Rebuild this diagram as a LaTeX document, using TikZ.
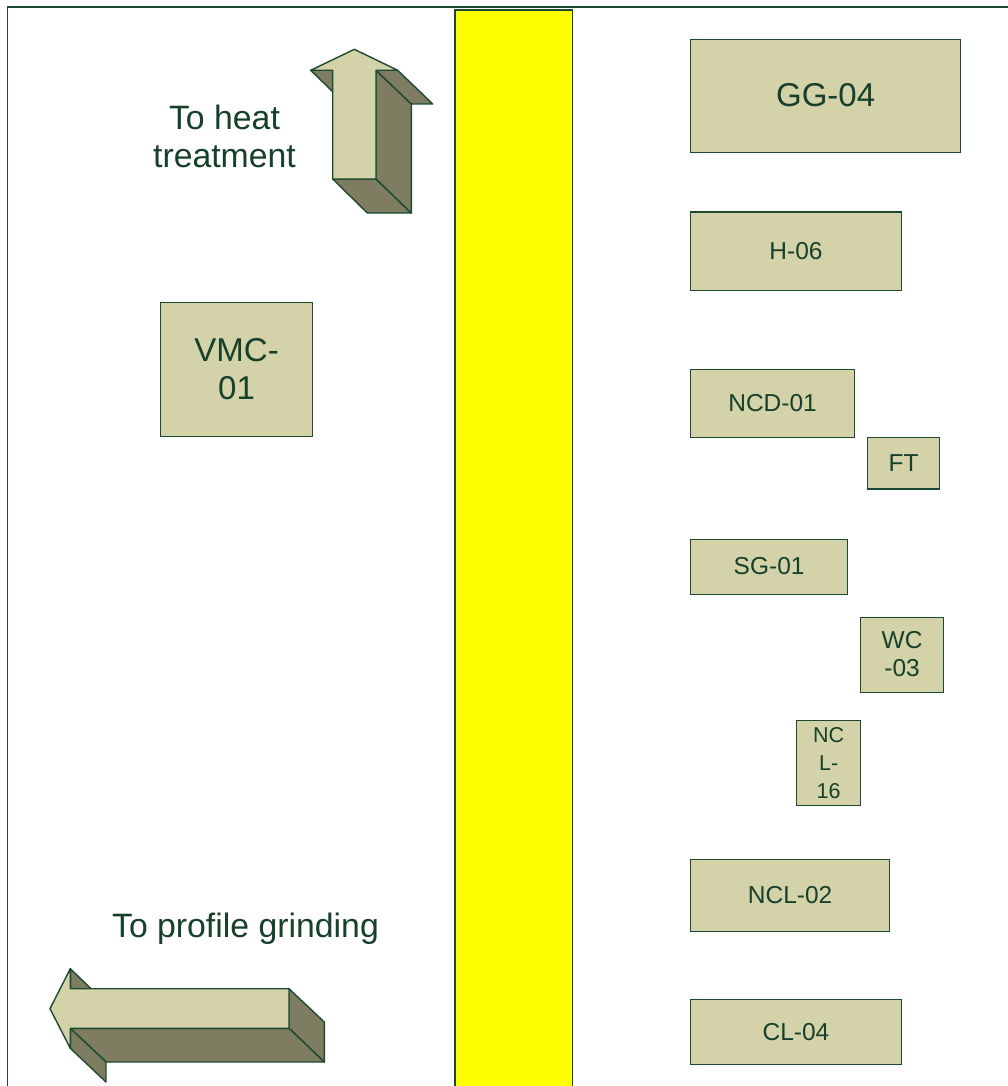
\documentclass[tikz,border=0pt]{standalone}
\usepackage{fontspec}
\setmainfont{Liberation Sans}
\definecolor{ln}{HTML}{1C4A30}
\definecolor{txt}{HTML}{17402B}
\definecolor{lite}{HTML}{D3D2A9}
\definecolor{dark}{HTML}{7F7D61}
\definecolor{ylw}{RGB}{255,255,0}
\newcommand{\fsz}[1]{\fontsize{#1}{#1}\selectfont}
\newcommand{\dep}{\rule[-2pt]{0pt}{2pt}}
\tikzset{
  x=1pt,y=-1pt,
  mach/.style={draw=ln,line width=1.2pt,fill=lite,text=txt,align=center,inner sep=0pt,anchor=center},
  bigname/.style={font=\fsz{33},text height=22pt,text depth=0pt},
  midname/.style={font=\fsz{24.5},text height=15.9pt,text depth=0pt},
  face/.style={draw=ln,line width=1.4pt,fill=lite,line join=round},
  side/.style={draw=ln,line width=1.4pt,fill=dark,line join=round},
  lab/.style={text=txt,align=center,inner sep=0pt,anchor=center}
}
\begin{document}
\begin{tikzpicture}
\useasboundingbox (0,0) rectangle (1008,1086);
% frame
\draw[ln,line width=1.4pt] (7.5,1086) -- (7.5,7) -- (1008,7);
% aisle
\draw[ln,line width=1.4pt,fill=ylw] (454.8,1087) -- (454.8,10) -- (572.7,10) -- (572.7,1087);
% machines
\node[mach,bigname,minimum width=270.5pt,minimum height=113.5pt] (gg) at (825.6,96) {GG-04};
\node[mach,midname,minimum width=211.5pt,minimum height=78.5pt] (h) at (796,251.2) {H-06};
\node[mach,midname,minimum width=164.5pt,minimum height=67.5pt] (ncd) at (772.6,403.6) {NCD-01};
\node[mach,midname,minimum width=72.5pt,minimum height=51.5pt] (ft) at (903.6,463.2) {FT};
\node[mach,midname,minimum width=157.5pt,minimum height=55.5pt] (sg) at (769.1,566.9) {SG-01};
\node[mach,minimum width=82.5pt,minimum height=75.5pt,font=\fsz{24.5}] (wc) at (902.1,655) {WC\\[3pt]-03\dep};
\node[mach,minimum width=64.5pt,minimum height=85.5pt,font=\fsz{21.5}] (ncl16) at (828.6,763) {NC\\[6.5pt]L-\\[6.5pt]16};
\node[mach,midname,minimum width=199.5pt,minimum height=72.5pt] (ncl02) at (790.1,895.5) {NCL-02};
\node[mach,midname,minimum width=211.5pt,minimum height=65.5pt] (cl) at (796,1032.1) {CL-04};
\node[mach,minimum width=152.5pt,minimum height=134.5pt,font=\fsz{33}] (vmc) at (236.6,369.6) {VMC-\\[5pt]01\dep};
% labels
\node[lab,font=\fsz{33.8}] (heat) at (224.5,136.5) {To heat\\[4.2pt]treatment};
\node[lab,font=\fsz{33.8}] (prof) at (245.5,928.5) {To profile grinding};
% up arrow
\draw[side] (310.7,70.3) -- (332.7,91.7) -- (332.7,70.3) -- cycle;
\draw[side] (332.7,179) -- (367.3,213) -- (411.3,213) -- (376,179) -- cycle;
\draw[side] (376,70.3) -- (411.3,104) -- (411.3,213) -- (376,179) -- cycle;
\draw[side] (376,70.3) -- (397.7,70.3) -- (432.7,104) -- (411.3,104) -- cycle;
\draw[face] (354.3,49.3) -- (397.7,70.3) -- (376,70.3) -- (376,179) -- (332.7,179) -- (332.7,70.3) -- (310.7,70.3) -- cycle;
% left arrow
\draw[side] (70.3,968.7) -- (91,988.7) -- (70.3,988.7) -- cycle;
\draw[side] (289,988.7) -- (324.3,1022) -- (324.3,1062) -- (289,1028.3) -- cycle;
\draw[side] (70.3,1028.3) -- (289,1028.3) -- (324.3,1062) -- (106,1062) -- cycle;
\draw[side] (70.3,1028.3) -- (106,1062) -- (106,1082) -- (70.3,1048.3) -- cycle;
\draw[face] (50,1008.7) -- (70.3,968.7) -- (70.3,988.7) -- (289,988.7) -- (289,1028.3) -- (70.3,1028.3) -- (70.3,1048.3) -- cycle;
\end{tikzpicture}
\end{document}
